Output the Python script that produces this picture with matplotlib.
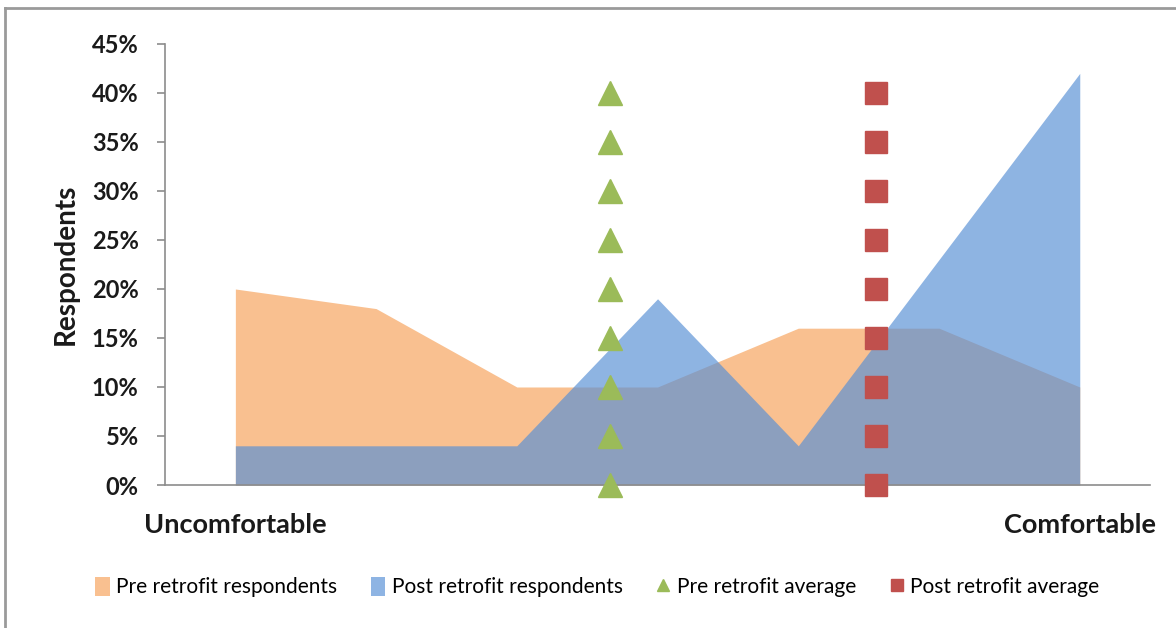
import numpy as np
import matplotlib.pyplot as plt
from matplotlib.lines import Line2D
from matplotlib.patches import Patch

# Comfort scale, 1 = uncomfortable ... 7 = comfortable
scale = [1, 2, 3, 4, 5, 6, 7]
scale_labels = ['Uncomfortable', '', '', '', '', '', 'Comfortable']
pre_pct = [20, 18, 10, 10, 16, 16, 10]
post_pct = [4, 4, 4, 19, 4, 23, 42]

# average position on the scale, shown as a column of markers
pre_avg = 3.66
post_avg = 5.55
avg_levels = [0, 5, 10, 15, 20, 25, 30, 35, 40]

plt.rcParams['font.family'] = ['Lato', 'DejaVu Sans']

fig = plt.figure(figsize=(11.76, 6.28), dpi=100)
ax = fig.add_axes([0.1403, 0.2277, 0.8377, 0.7023])

x = np.array(scale)
pre = np.array(pre_pct) / 100
post = np.array(post_pct) / 100

ax.fill_between(x, 0, pre, color='#F9C090', lw=0, zorder=1)
ax.fill_between(x, 0, post, color='#578FD5', alpha=0.67, lw=0, zorder=2)

levels = np.array(avg_levels) / 100
ax.plot([pre_avg] * len(levels), levels, ls='none', marker='^', ms=17,
        color='#9BBB59', mec='#9BBB59', clip_on=False, zorder=4)
ax.plot([post_avg] * len(levels), levels, ls='none', marker='s', ms=16,
        color='#C0504D', mec='#C0504D', clip_on=False, zorder=4)

ax.set_xlim(0.5, 7.5)
ax.set_ylim(0, 0.45)
ax.set_yticks(np.arange(0, 0.451, 0.05))
ax.set_yticklabels([f'{int(round(v * 100))}%' for v in np.arange(0, 0.451, 0.05)])
ax.set_xticks(scale)
ax.set_xticklabels(scale_labels)

for s in ['top', 'right']:
    ax.spines[s].set_visible(False)
for s in ['left', 'bottom']:
    ax.spines[s].set_color('#8C8C8C')
    ax.spines[s].set_linewidth(1.2)

ax.tick_params(axis='y', length=6, width=1.2, color='#8C8C8C', pad=13,
               labelsize=17, labelcolor='#1A1A1A')
ax.tick_params(axis='x', length=0, pad=20, labelsize=19.5, labelcolor='#1A1A1A')
for lbl in ax.get_yticklabels() + ax.get_xticklabels():
    lbl.set_fontweight('bold')

ax.set_ylabel('Respondents', fontsize=20, fontweight='bold', color='#1A1A1A',
              labelpad=9)

handles = [
    Patch(facecolor='#F9C090', edgecolor='none', label='Pre retrofit respondents'),
    Patch(facecolor='#8EB4E3', edgecolor='none', label='Post retrofit respondents'),
    Line2D([], [], ls='none', marker='^', ms=9, color='#9BBB59', label='Pre retrofit average'),
    Line2D([], [], ls='none', marker='s', ms=9, color='#C0504D', label='Post retrofit average'),
]
fig.legend(handles=handles, loc='center', bbox_to_anchor=(0.508, 0.065), ncol=4,
           frameon=False, fontsize=15, handlelength=0.7, handleheight=1.0,
           handletextpad=0.3, columnspacing=1.6)

# chart frame along the top and left edges
fig.add_artist(Line2D([5 / 1176, 5 / 1176], [0, 1 - 8 / 628], transform=fig.transFigure,
                      color='#9A9A9A', lw=2))
fig.add_artist(Line2D([5 / 1176, 1], [1 - 8 / 628, 1 - 8 / 628], transform=fig.transFigure,
                      color='#9A9A9A', lw=2))

fig.savefig('out.png', dpi=100)
